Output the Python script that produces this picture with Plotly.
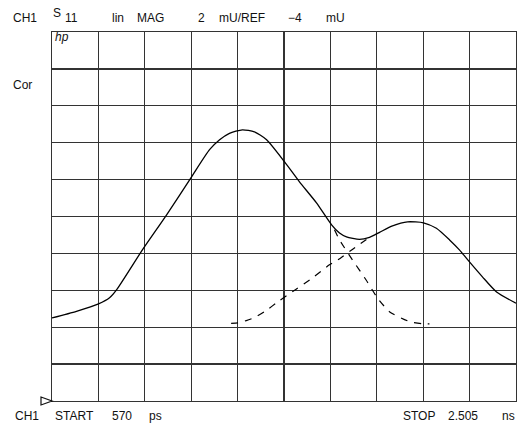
import plotly.graph_objects as go

# ---- data (time in ps, magnitude in mU) ----
solid_t = [570, 672, 764, 810, 839, 947, 1048, 1152, 1227, 1269, 1310, 1364, 1414, 1465,
           1540, 1602, 1673, 1736, 1769, 1798, 1852, 1894, 1936, 1990, 2053, 2119, 2173,
           2228, 2269, 2311, 2365, 2424, 2505]
solid_v = [0.50, 0.86, 1.26, 1.59, 2.02, 4.19, 6.09, 8.15, 9.62, 10.16, 10.51, 10.70, 10.59,
           10.16, 8.96, 7.88, 6.74, 5.55, 5.11, 4.90, 4.76, 4.87, 5.14, 5.49, 5.71, 5.66,
           5.36, 4.73, 4.19, 3.54, 2.73, 1.91, 1.30]

rise_t = [1317, 1345, 1380, 1414, 1456, 1519, 1588, 1658, 1727, 1762, 1824, 1894]
rise_v = [0.21, 0.23, 0.36, 0.52, 0.84, 1.44, 2.06, 2.69, 3.38, 3.65, 4.23, 4.87]

fall_t = [1748, 1769, 1823, 1880, 1927, 1977, 2061, 2116, 2144]
fall_v = [5.28, 4.73, 3.65, 2.56, 1.59, 0.84, 0.30, 0.18, 0.18]

start_ps = 570
stop_ps = 2505
ref_mu = -4
scale_mu = 2
n_div = 10

header_words = [("CH1", 11, 18), ("lin", 110, 18), ("MAG", 135, 18), ("2", 196, 18),
                ("mU/REF", 217, 18), ("\u22124", 286, 18), ("mU", 324, 18)]
footer_words = [("CH1", 13, 416), ("START", 53, 416), ("570", 110, 416), ("ps", 147, 416),
                ("STOP", 401, 416), ("2.505", 446, 416), ("ns", 500, 416)]

# ---- figure ----
W, H = 519, 431
ML, MR, MT, MB = 52, 3, 32, 30
PW, PH = W - ML - MR, H - MT - MB

fig = go.Figure()
fig.add_trace(go.Scatter(x=solid_t, y=solid_v, mode="lines", line=dict(color="black", width=1.3, shape="spline", smoothing=0.6), hoverinfo="skip"))
fig.add_trace(go.Scatter(x=rise_t, y=rise_v, mode="lines", line=dict(color="black", width=1.2, dash="7px,7px", shape="spline", smoothing=0.5), hoverinfo="skip"))
fig.add_trace(go.Scatter(x=fall_t, y=fall_v, mode="lines", line=dict(color="black", width=1.2, dash="7px,7px", shape="spline", smoothing=0.5), hoverinfo="skip"))

def px(x):
    return (x - ML) / PW

def py(y):
    return (H - MB - y) / PH

font = dict(family="Liberation Sans, Arial, sans-serif", size=12, color="#111")
ann = []
for txt, x, y in header_words + footer_words:
    ann.append(dict(text=txt, x=px(x), y=py(y), xref="paper", yref="paper", xanchor="left", yanchor="middle", showarrow=False, font=font))
ann.append(dict(text="S", x=px(51), y=py(12.5), xref="paper", yref="paper", xanchor="left", yanchor="middle", showarrow=False, font=font))
ann.append(dict(text="11", x=px(63), y=py(18.5), xref="paper", yref="paper", xanchor="left", yanchor="middle", showarrow=False, font=font))
ann.append(dict(text="Cor", x=px(11), y=py(85), xref="paper", yref="paper", xanchor="left", yanchor="middle", showarrow=False, font=font))
ann.append(dict(text="<i>hp</i>", x=px(53), y=py(37), xref="paper", yref="paper", xanchor="left", yanchor="middle", showarrow=False, font=dict(family="Liberation Sans, Arial, sans-serif", size=12, color="#111")))

fig.update_layout(
    width=W, height=H,
    margin=dict(l=ML, r=MR, t=MT, b=MB),
    paper_bgcolor="white", plot_bgcolor="white",
    showlegend=False,
    annotations=ann,
    shapes=[dict(type="path", xref="paper", yref="paper", xsizemode="pixel", ysizemode="pixel",
                 xanchor=0, yanchor=0,
                 path="M -11,4 L 0,0 L -11,-4 Z", line=dict(color="#111", width=1.2))],
)
fig.update_xaxes(range=[start_ps, stop_ps], dtick=(stop_ps - start_ps) / n_div, tick0=start_ps,
                 showticklabels=False, ticks="", showgrid=True, gridcolor="#333", gridwidth=1.3,
                 zeroline=False, showline=True, linecolor="#333", linewidth=1.3, mirror=True)
fig.update_yaxes(range=[ref_mu, ref_mu + scale_mu * n_div], dtick=scale_mu, tick0=ref_mu,
                 showticklabels=False, ticks="", showgrid=True, gridcolor="#333", gridwidth=1.3,
                 zeroline=False, showline=True, linecolor="#333", linewidth=1.3, mirror=True)

fig.write_html("out.html", config={"displayModeBar": False, "staticPlot": True},
               post_script="document.body.style.margin='0';document.body.style.overflow='hidden';")
